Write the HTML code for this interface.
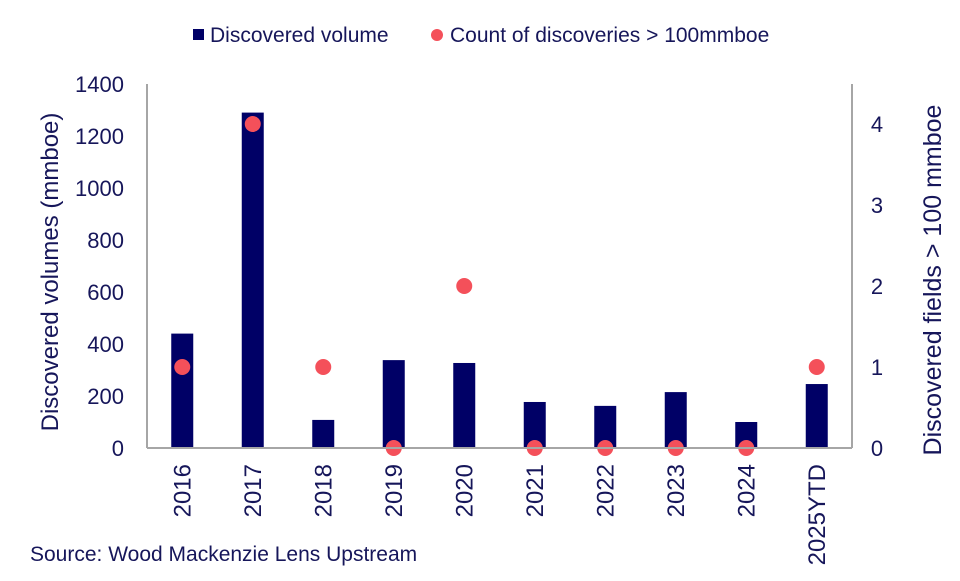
<!DOCTYPE html>
<html><head><meta charset="utf-8"><style>
body{margin:0;background:#fff;}
text{font-family:"Liberation Sans",Arial,sans-serif;fill:#16165a;}
</style></head><body>
<svg width="960" height="576" xmlns="http://www.w3.org/2000/svg">
<g>
<rect x="193" y="29" width="11" height="11" fill="#000066"/>
<text x="210" y="42" font-size="21">Discovered volume</text>
<circle cx="437" cy="35" r="6" fill="#f4505a"/>
<text x="450" y="42" font-size="21">Count of discoveries &gt; 100mmboe</text>
</g>
<g id="plot"></g>
<text transform="translate(58,272) rotate(-90)" text-anchor="middle" font-size="24">Discovered volumes (mmboe)</text>
<text transform="translate(941,280) rotate(-90)" text-anchor="middle" font-size="25">Discovered fields &gt; 100 mmboe</text>
<text x="30" y="561" font-size="21">Source: Wood Mackenzie Lens Upstream</text>
</svg>
<script>
const categories=["2016","2017","2018","2019","2020","2021","2022","2023","2024","2025YTD"];
const volumes=[440,1290,108,338,327,177,162,215,100,246];
const counts=[1,4,1,0,2,0,0,0,0,1];
const leftTicks=[0,200,400,600,800,1000,1200,1400];
const rightTicks=[0,1,2,3,4];
const NS="http://www.w3.org/2000/svg";
const g=document.getElementById('plot');
const x0=147,x1=852,y0=448,yTop=84;
const yL=v=>y0-(v/1400)*(y0-yTop);
const yR=v=>y0-v*81;
const bw=(x1-x0)/categories.length;
const xc=i=>x0+bw*(i+0.5);
function mk(t,a){const e=document.createElementNS(NS,t);for(const k in a)e.setAttribute(k,a[k]);g.appendChild(e);return e;}
volumes.forEach((v,i)=>{const r=mk('rect',{x:xc(i)-11,y:yL(v),width:22,height:y0-yL(v),fill:'#000066'});

});
counts.forEach((c,i)=>{const p=mk('circle',{cx:xc(i),cy:yR(c),r:8,fill:'#f4505a'});

});
let a=mk('line',{x1:x0,y1:yTop,x2:x0,y2:y0,stroke:'#a6a6a6','stroke-width':2});


a=mk('line',{x1:x1,y1:yTop,x2:x1,y2:y0,stroke:'#a6a6a6','stroke-width':2});


a=mk('line',{x1:x0,y1:y0,x2:x1,y2:y0,stroke:'#a6a6a6','stroke-width':2});


leftTicks.forEach(t=>{const e=mk('text',{x:124,y:yL(t)+8,'text-anchor':'end','font-size':22});e.textContent=t;

});
rightTicks.forEach(t=>{const e=mk('text',{x:877,y:yR(t)+8,'text-anchor':'middle','font-size':22});e.textContent=t;

});
categories.forEach((c,i)=>{const e=mk('text',{transform:`translate(${xc(i)+8},464) rotate(-90)`,'text-anchor':'end','font-size':24});e.textContent=c;

});
</script>
</body></html>
